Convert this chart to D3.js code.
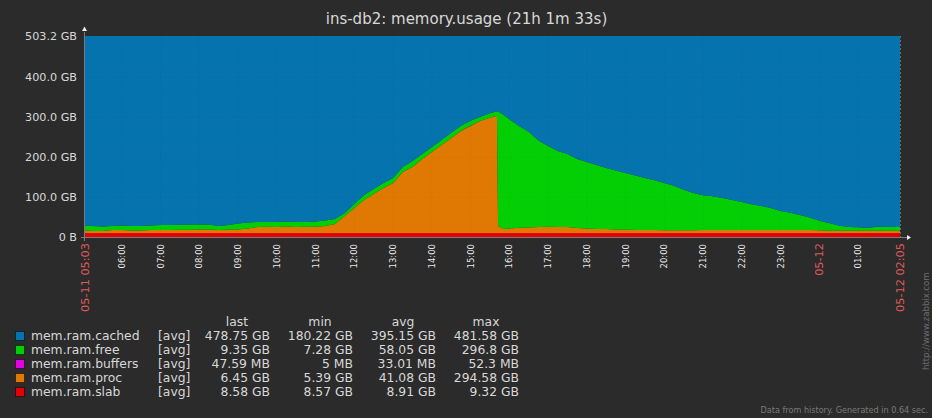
<!DOCTYPE html>
<meta charset="utf-8">
<style>
    html, body { margin: 0; padding: 0; background: #2b2b2b; overflow: hidden; }
    svg { display: block; font-family: "DejaVu Sans", sans-serif; }
</style>
<script src="https://d3js.org/d3.v7.min.js"></script>
<div id="chart"></div>

<script>
    // hours after midnight on 05-11 (so 24 = 05-12 00:00), values in GB
    const hours = [5.05, 5.25, 5.5, 5.75, 6, 6.25, 6.5, 6.75, 7, 7.25, 7.5, 7.75, 8, 8.25, 8.5, 8.75,
        9, 9.25, 9.5, 9.75, 10, 10.25, 10.5, 10.75, 11, 11.25, 11.5, 11.75, 12, 12.25, 12.5, 12.75,
        13, 13.25, 13.5, 13.75, 14, 14.25, 14.5, 14.75, 15, 15.25, 15.5, 15.68, 15.71, 15.85, 16,
        16.25, 16.5, 16.75, 17, 17.25, 17.5, 17.75, 18, 18.25, 18.5, 18.75, 19, 19.25, 19.5, 19.75,
        20, 20.25, 20.5, 20.75, 21, 21.25, 21.5, 21.75, 22, 22.25, 22.5, 22.75, 23, 23.25, 23.5, 23.75,
        24, 24.25, 24.5, 24.75, 25, 25.25, 25.5, 25.75, 26, 26.08];
    const slab = [11.5, 11.5, 11.5, 11.5, 11.5, 11.5, 11.5, 11.5, 11.5, 11.5, 11.5, 11.5, 11.5, 11.5, 11.5, 11.5,
        11.5, 11.5, 11.5, 11.5, 11.5, 11.5, 11.5, 11.5, 11.5, 11.5, 11.5, 11.5, 11.5, 11.5, 11.5, 11.5,
        11.5, 11.5, 11.5, 11.5, 11.5, 11.5, 11.5, 11.5, 11.5, 11.5, 11.5, 11.5, 11.5, 11.5, 11.5,
        11.5, 11.5, 11.5, 11.5, 11.5, 11.5, 11.5, 11.5, 11.5, 11.5, 11.5, 11.5, 11.5, 11.5, 11.5,
        11.5, 11.5, 11.5, 11.5, 11.5, 11.5, 11.5, 11.5, 11.5, 11.5, 11.5, 11.5, 11.5, 11.5, 11.5, 11.5,
        11.5, 11.5, 11.5, 11.5, 11.5, 11.5, 11.5, 11.5, 11.5, 11.5];
    const proc = [6, 4.75, 4.75, 7.25, 7.25, 6, 6, 7.25, 7.25, 7.25, 7.75, 7.75, 8.5, 8.5, 7.25, 8.5,
        8.5, 11, 14.75, 15.25, 14.75, 16, 14.75, 15.25, 15.25, 17.25, 22.25, 42.25, 62.25, 82.25, 97.25, 112.25,
        124.75, 152.25, 164.75, 184.75, 202.25, 219.75, 237.25, 254.75, 267.25, 279.75, 287.25, 292.5, 17.25, 9.75, 11,
        13, 13.5, 14.75, 15.25, 14.75, 14.75, 12.25, 11, 9.75, 9.75, 8.5, 8.5, 7.25, 7.25, 7.25,
        6.5, 6.5, 6.5, 6.5, 7.25, 7.25, 7.25, 7.25, 7.25, 7.25, 7.25, 7.25, 7.25, 7.25, 7.25, 7.25,
        6.5, 5.5, 5.5, 5.5, 5.5, 5.5, 5.5, 5.5, 5.5, 5.5];
    const free = [12.5, 12.5, 11.25, 10, 11.25, 11.25, 11.25, 11.25, 12.5, 12.5, 12.5, 13.25, 12.5, 12.5, 10, 11.25,
        15, 15, 12.5, 12, 12.5, 12.5, 12.5, 12, 13.25, 13.75, 12.5, 7.5, 10, 12.5, 12.5, 12.5,
        12.5, 12.5, 15, 12.5, 12.5, 12.5, 12.5, 12.5, 12.5, 10, 11.25, 11.25, 286, 285, 272.5,
        254, 239, 216, 202, 190, 182.5, 172.5, 166, 160, 152.5, 147.5, 141, 136, 130, 124,
        118, 111, 101, 93, 87, 84, 80, 75, 70, 64, 60, 55, 47.5, 43, 37.5, 31,
        24, 19, 13, 9, 8.5, 7.5, 10, 9, 9, 9.35];
    const buffers = [0.03, 0.03, 0.03, 0.03, 0.03, 0.03, 0.03, 0.03, 0.03, 0.03, 0.03, 0.03, 0.03, 0.03, 0.03, 0.03,
        0.03, 0.03, 0.03, 0.03, 0.03, 0.03, 0.03, 0.03, 0.03, 0.03, 0.03, 0.03, 0.03, 0.03, 0.03, 0.03,
        0.03, 0.03, 0.03, 0.03, 0.03, 0.03, 0.03, 0.03, 0.03, 0.03, 0.03, 0.03, 0.03, 0.03, 0.03,
        0.03, 0.03, 0.03, 0.03, 0.03, 0.03, 0.03, 0.03, 0.03, 0.03, 0.03, 0.03, 0.03, 0.03, 0.03,
        0.03, 0.03, 0.03, 0.03, 0.03, 0.03, 0.03, 0.03, 0.03, 0.03, 0.03, 0.03, 0.03, 0.03, 0.03, 0.03,
        0.03, 0.03, 0.03, 0.03, 0.03, 0.03, 0.03, 0.03, 0.03, 0.05];
    const cached = [473.2, 474.4, 475.7, 474.4, 473.2, 474.4, 474.4, 473.2, 471.9, 471.9, 471.4, 470.7, 470.7, 470.7, 474.4, 471.9,
        468.2, 465.7, 464.4, 464.4, 464.4, 463.2, 464.4, 464.4, 463.2, 460.7, 456.9, 441.9, 419.4, 396.9, 381.9, 366.9,
        354.4, 326.9, 311.9, 294.4, 276.9, 259.4, 241.9, 224.4, 211.9, 201.9, 193.2, 187.9, 188.4, 196.9, 208.2,
        224.7, 239.2, 260.9, 274.4, 286.9, 294.4, 306.9, 314.7, 321.9, 329.4, 335.7, 342.2, 348.4, 354.4, 360.4,
        367.2, 374.2, 384.2, 392.2, 397.4, 400.4, 404.4, 409.4, 414.4, 420.4, 424.4, 429.4, 436.9, 441.4, 446.9, 453.4,
        461.2, 467.2, 473.2, 477.2, 477.7, 478.7, 476.2, 477.2, 477.2, 476.8];
    const yTicks = [0, 100, 200, 300, 400, 503.2];
    const yTickLabels = ["0 B", "100.0 GB", "200.0 GB", "300.0 GB", "400.0 GB", "503.2 GB"];
    const hourTicks = [6, 7, 8, 9, 10, 11, 12, 13, 14, 15, 16, 17, 18, 19, 20, 21, 22, 23, 25];
    const hourLabels = ["06:00", "07:00", "08:00", "09:00", "10:00", "11:00", "12:00", "13:00", "14:00", "15:00",
        "16:00", "17:00", "18:00", "19:00", "20:00", "21:00", "22:00", "23:00", "01:00"];
    const redTicks = [5.05, 24, 26.08];
    const redLabels = ["05-11 05:03", "05-12", "05-12 02:05"];
    const seriesNames = ["mem.ram.cached", "mem.ram.free", "mem.ram.buffers", "mem.ram.proc", "mem.ram.slab"];
    const seriesColors = ["#0473ae", "#04cf04", "#e004e0", "#e07804", "#e00404"];
    const statHeads = ["last", "min", "avg", "max"];
    const lastVals = ["478.75 GB", "9.35 GB", "47.59 MB", "6.45 GB", "8.58 GB"];
    const minVals = ["180.22 GB", "7.28 GB", "5 MB", "5.39 GB", "8.57 GB"];
    const avgVals = ["395.15 GB", "58.05 GB", "33.01 MB", "41.08 GB", "8.91 GB"];
    const maxVals = ["481.58 GB", "296.8 GB", "52.3 MB", "294.58 GB", "9.32 GB"];

    const width = 932, height = 418;
    const plotLeft = 85, plotRight = 900, plotTop = 36, plotBottom = 237.5;
    const textColor = "#d8d8d8";

    const svg = d3.select("#chart").append("svg")
        .attr("width", width)
        .attr("height", height);

    const x = d3.scaleLinear().domain([5.05, 26.08]).range([plotLeft, plotRight]);
    const y = d3.scaleLinear().domain([0, 503.2]).range([plotBottom, plotTop]);

    const rows = hours.map((h, i) => ({
        h,
        slab: slab[i],
        proc: proc[i],
        buffers: buffers[i],
        free: free[i],
        cached: cached[i]
    }));
    const stackKeys = ["slab", "proc", "buffers", "free", "cached"];
    const colorOf = {cached: seriesColors[0], free: seriesColors[1], buffers: seriesColors[2], proc: seriesColors[3], slab: seriesColors[4]};
    const stacked = d3.stack().keys(stackKeys)(rows);
    const area = d3.area()
        .x(d => x(d.data.h))
        .y0(d => y(d[0]))
        .y1(d => y(d[1]));

    svg.append("text")
        .attr("x", 466.5).attr("y", 24)
        .attr("text-anchor", "middle")
        .attr("font-size", 15)
        .attr("fill", textColor)
        .text("ins-db2: memory.usage (21h 1m 33s)");

    svg.append("g").selectAll("path")
        .data(stacked)
        .join("path")
        .attr("d", area)
        .attr("fill", d => colorOf[d.key]);

    // faint dotted grid over the areas
    const grid = svg.append("g")
        .attr("stroke", "#000")
        .attr("stroke-opacity", 0.06)
        .attr("stroke-dasharray", "1,2");
    grid.selectAll("line.v").data(hourTicks.concat([24]))
        .join("line").attr("class", "v")
        .attr("x1", d => x(d)).attr("x2", d => x(d))
        .attr("y1", plotTop).attr("y2", plotBottom);
    grid.selectAll("line.h").data(yTicks.slice(1, 5))
        .join("line").attr("class", "h")
        .attr("x1", plotLeft).attr("x2", plotRight)
        .attr("y1", d => y(d)).attr("y2", d => y(d));

    // axes lines and arrows
    const axisColor = "#7c7c7c";
    svg.append("line").attr("x1", plotLeft - 0.5).attr("x2", plotLeft - 0.5).attr("y1", 32).attr("y2", 241)
        .attr("stroke", axisColor);
    svg.append("line").attr("x1", plotLeft - 4).attr("x2", 908).attr("y1", 237.5).attr("y2", 237.5)
        .attr("stroke", axisColor);
    svg.append("line").attr("x1", plotRight + 0.5).attr("x2", plotRight + 0.5).attr("y1", plotTop).attr("y2", 237)
        .attr("stroke", "#6a6a6a").attr("stroke-dasharray", "2,2");
    svg.append("path").attr("d", `M${plotLeft - 3},31 L${plotLeft + 2},31 L${plotLeft - 0.5},26.5 Z`).attr("fill", "#eee");
    svg.append("path").attr("d", `M907,235 L907,240 L911,237.5 Z`).attr("fill", "#eee");

    const yLabel = svg.append("g")
        .attr("font-size", 11.2)
        .attr("fill", textColor)
        .attr("text-anchor", "end");
    yLabel.selectAll("text").data(yTicks)
        .join("text")
        .attr("x", 77)
        .attr("y", d => y(d) + 3.5)
        .text((d, i) => yTickLabels[i]);

    svg.append("g").attr("font-size", 8.5).attr("fill", "#e8e8e8")
        .selectAll("text").data(hourTicks)
        .join("text")
        .attr("text-anchor", "end")
        .attr("transform", d => `translate(${x(d) + 3},244) rotate(-90)`)
        .text((d, i) => hourLabels[i]);

    svg.append("g").attr("font-size", 11.3).attr("fill", "#e05a5a")
        .selectAll("text").data(redTicks)
        .join("text")
        .attr("text-anchor", "end")
        .attr("transform", d => `translate(${x(d) + 4},243) rotate(-90)`)
        .text((d, i) => redLabels[i]);

    // legend
    const rowY = d3.scaleBand().domain(seriesNames).range([329, 399]);
    const legend = svg.append("g").attr("font-size", 12.35).attr("fill", textColor);
    legend.selectAll("rect").data(seriesNames)
        .join("rect")
        .attr("x", 15.5).attr("y", d => rowY(d) + 2.5)
        .attr("width", 9).attr("height", 9)
        .attr("fill", (d, i) => seriesColors[i])
        .attr("stroke", "#000").attr("stroke-opacity", 0.5);
    legend.selectAll("text.name").data(seriesNames)
        .join("text").attr("class", "name")
        .attr("x", 31).attr("y", d => rowY(d) + 11)
        .text(d => d);
    legend.selectAll("text.fn").data(seriesNames)
        .join("text").attr("class", "fn")
        .attr("x", 158).attr("y", d => rowY(d) + 11)
        .text("[avg]");

    const statCols = [
        {head: statHeads[0], vals: lastVals, right: 270, mid: 237},
        {head: statHeads[1], vals: minVals, right: 353, mid: 320},
        {head: statHeads[2], vals: avgVals, right: 436, mid: 403},
        {head: statHeads[3], vals: maxVals, right: 519, mid: 486}
    ];
    statCols.forEach(c => {
        legend.append("text").attr("x", c.mid).attr("y", 326)
            .attr("text-anchor", "middle").text(c.head);
        legend.selectAll(null).data(c.vals)
            .join("text")
            .attr("x", c.right)
            .attr("y", (d, i) => rowY(seriesNames[i]) + 11)
            .attr("text-anchor", "end")
            .text(d => d);
    });

    svg.append("text")
        .attr("transform", "translate(929,370) rotate(-90)")
        .attr("font-size", 8.5).attr("fill", "#6e6e6e")
        .text("http://www.zabbix.com");
    svg.append("text")
        .attr("x", 928).attr("y", 413)
        .attr("text-anchor", "end")
        .attr("font-size", 8.1).attr("fill", "#7a7a7a")
        .text("Data from history. Generated in 0.64 sec.");
</script>
